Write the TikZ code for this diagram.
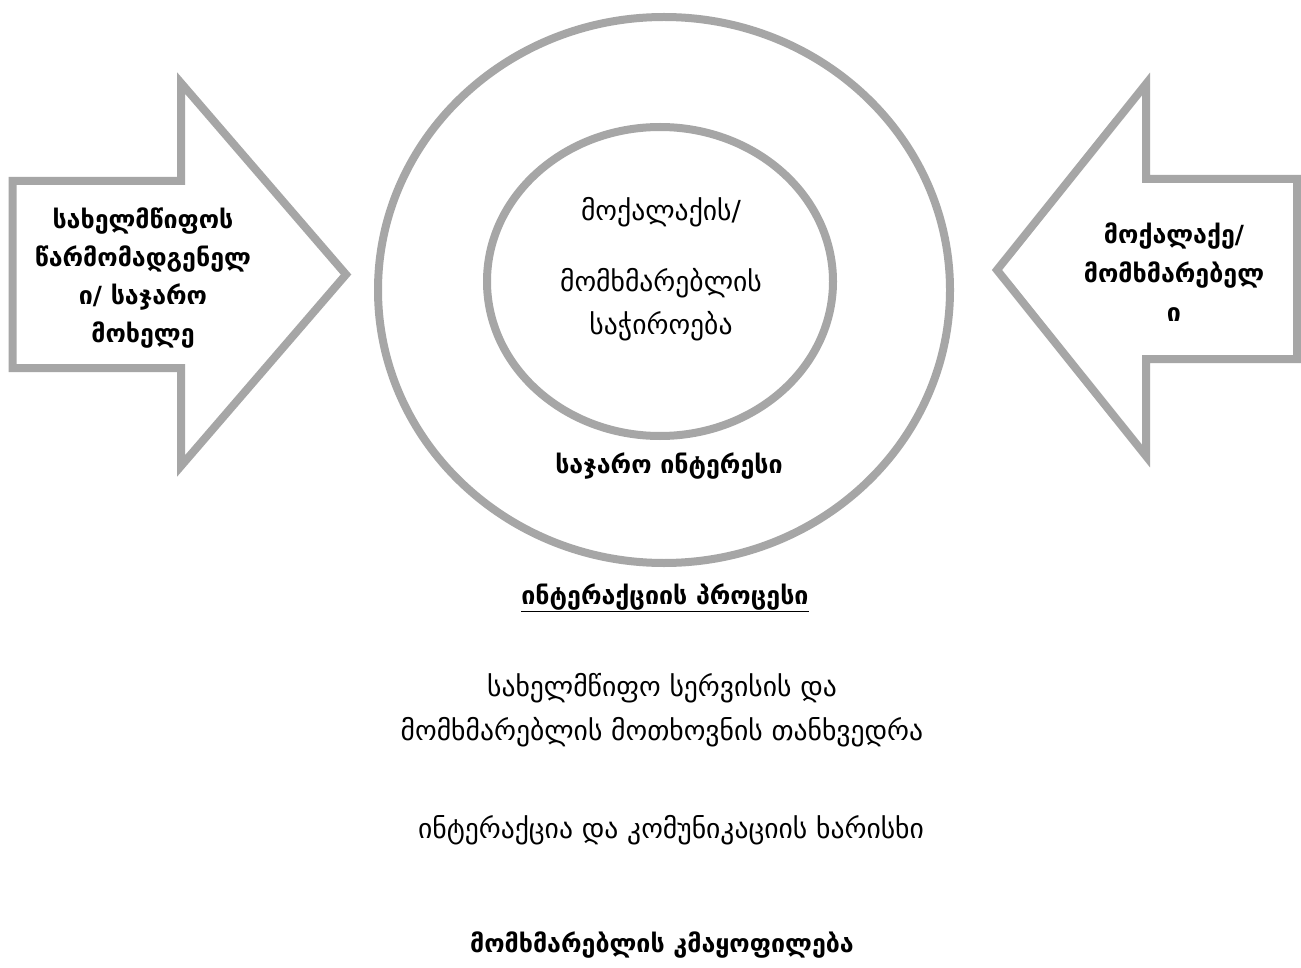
\documentclass[tikz,border=0pt]{standalone}
\usepackage{fontspec}
\setmainfont{DejaVu Sans}
\usetikzlibrary{shapes.geometric}
\definecolor{ringgray}{HTML}{A6A6A6}
\begin{document}
\begin{tikzpicture}[x=1pt,y=-1pt,
  ring/.style={ellipse,draw=ringgray,line width=8pt,inner sep=0pt},
  arrowline/.style={draw=ringgray,line width=8pt,line join=miter,fill=white},
  txt/.style={align=center,inner sep=0pt,font=\fontsize{27.6}{38}\selectfont},
  btxt/.style={align=center,inner sep=0pt,font=\fontsize{25}{38}\selectfont\bfseries}]
\useasboundingbox[fill=white] (0,0) rectangle (1301,968);
% rings
\node[ring,minimum width=572pt,minimum height=546pt] (outer) at (664,290) {};
\node[ring,minimum width=346pt,minimum height=309pt] (inner) at (660,281.5) {};
% left arrow
\draw[arrowline] (12.5,181) -- (181,181) -- (181,83) -- (346,274.5) -- (181,466) -- (181,368) -- (12.5,368) -- cycle;
\node[btxt] (state) at (143,278) {სახელმწიფოს\\წარმომადგენელ\\ი/ საჯარო\\მოხელე};
% right arrow
\draw[arrowline] (1297,179) -- (1146,179) -- (1146,84) -- (997,270) -- (1146,456) -- (1146,359) -- (1297,359) -- cycle;
\node[btxt,font=\fontsize{25}{39}\selectfont\bfseries] (citizen) at (1174,272) {მოქალაქე/\\მომხმარებელ\\ი};
% inner texts
\node[txt] (need1) at (661,212) {მოქალაქის/};
\node[txt,font=\fontsize{27.6}{43}\selectfont] (need2) at (661,304.5) {მომხმარებლის\\საჭიროება};
\node[btxt] (public) at (669,466) {საჯარო ინტერესი};
% lower texts
\node[btxt] (process) at (665,598) {\underline{ინტერაქციის პროცესი}};
\node[txt,font=\fontsize{27.6}{44}\selectfont] (match) at (662,710) {სახელმწიფო სერვისის და\\მომხმარებლის მოთხოვნის თანხვედრა};
\node[txt] (quality) at (671,830) {ინტერაქცია და კომუნიკაციის ხარისხი};
\node[btxt] (satisf) at (662,945) {მომხმარებლის კმაყოფილება};
\end{tikzpicture}
\end{document}
